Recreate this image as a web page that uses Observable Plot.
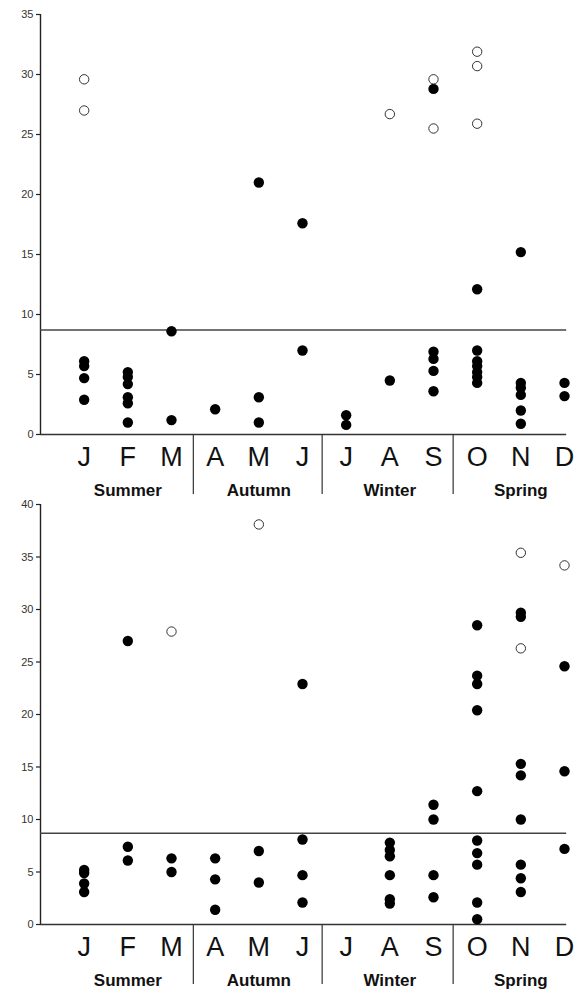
<!DOCTYPE html>
<html><head><meta charset="utf-8">
<script src="https://cdn.jsdelivr.net/npm/d3@7"></script>
<script src="https://cdn.jsdelivr.net/npm/@observablehq/plot@0.6"></script>
<style>body{margin:0;background:#fff} svg{display:block}</style>
</head><body><div id="chart"></div>
<script>
const months = ["J","F","M","A","M","J","J","A","S","O","N","D"];
const seasons = ["Summer","Autumn","Winter","Spring"];
const seasonCenters = [2, 5, 8, 11];
const seasonBreaks = [3.5, 6.45, 9.45];
const threshold = 8.7;
const topTicks = [0, 5, 10, 15, 20, 25, 30, 35];
const bottomTicks = [0, 5, 10, 15, 20, 25, 30, 35, 40];

const topFilled = [
  [6.1, 5.7, 4.7, 2.9],
  [5.2, 4.8, 4.2, 3.1, 2.6, 1.0],
  [8.6, 1.2],
  [2.1],
  [21.0, 3.1, 1.0],
  [17.6, 7.0],
  [1.6, 0.8],
  [4.5],
  [28.8, 6.9, 6.3, 5.3, 3.6],
  [12.1, 7.0, 6.1, 5.7, 5.2, 4.8, 4.3],
  [15.2, 4.3, 3.9, 3.3, 2.0, 0.9],
  [4.3, 3.2]
];
const topOpen = [[29.6, 27.0], [], [], [], [], [], [], [26.7], [29.6, 25.5], [31.9, 30.7, 25.9], [], []];

const bottomFilled = [
  [5.2, 4.9, 3.9, 3.1],
  [27.0, 7.4, 6.1],
  [6.3, 5.0],
  [6.3, 4.3, 1.4],
  [7.0, 4.0],
  [22.9, 8.1, 4.7, 2.1],
  [],
  [7.8, 7.1, 6.5, 4.7, 2.4, 2.0],
  [11.4, 10.0, 4.7, 2.6],
  [28.5, 23.7, 22.9, 20.4, 12.7, 8.0, 6.8, 5.7, 2.1, 0.5],
  [29.7, 29.3, 15.3, 14.2, 10.0, 5.7, 4.4, 3.1],
  [24.6, 14.6, 7.2]
];
const bottomOpen = [[], [], [27.9], [], [38.1], [], [], [], [], [], [35.4, 26.3], [34.2]];

function flatten(arr) {
  const out = [];
  arr.forEach((vals, i) => vals.forEach(v => out.push({m: i + 1, v})));
  return out;
}

const FONT = '"Liberation Sans", Arial, Helvetica, sans-serif';

function panel({filled, open, ticks, ymax, height, marginTop, marginBottom}) {
  const plotH = height - marginTop - marginBottom;
  const pxPerUnit = plotH / ymax;
  const monthData = months.map((t, i) => ({m: i + 1, t}));
  const seasonData = seasons.map((t, i) => ({m: seasonCenters[i], t}));
  return Plot.plot({
    width: 579,
    height,
    marginLeft: 40,
    marginRight: 15,
    marginTop,
    marginBottom,
    style: {fontFamily: FONT, background: "#fff", overflow: "visible"},
    x: {domain: [0, 12], axis: null},
    y: {domain: [0, ymax], axis: null},
    marks: [
      Plot.axisY({ticks, tickSize: 4, tickPadding: 3, label: null, fontSize: 11, color: "#333", stroke: "#222", strokeWidth: 1.2}),
      Plot.ruleX([0], {y1: 0, y2: ymax, stroke: "#222", strokeWidth: 1.4}),
      Plot.ruleY([0], {x1: 0, x2: 12.05, stroke: "#333", strokeWidth: 1.5}),
      Plot.ruleY([threshold], {x1: 0, x2: 12.05, stroke: "#444", strokeWidth: 1.5}),
      Plot.ruleX(seasonBreaks, {y1: 0, y2: -60 / pxPerUnit, stroke: "#333", strokeWidth: 1.2}),
      Plot.text(monthData, {x: "m", y: 0, text: "t", dy: 23, fontSize: 27, fill: "#111", lineAnchor: "middle"}),
      Plot.text(seasonData, {x: "m", y: 0, text: "t", dy: 56, fontSize: 17, fontWeight: "bold", fill: "#111", lineAnchor: "middle"}),
      Plot.dot(flatten(filled), {x: "m", y: "v", r: 5.2, fill: "#000", stroke: "none"}),
      Plot.dot(flatten(open), {x: "m", y: "v", r: 4.7, fill: "#fff", stroke: "#333", strokeWidth: 1})
    ]
  });
}

const chart = document.getElementById("chart");
chart.appendChild(panel({filled: topFilled, open: topOpen, ticks: topTicks, ymax: 35, height: 495, marginTop: 14, marginBottom: 61}));
chart.appendChild(panel({filled: bottomFilled, open: bottomOpen, ticks: bottomTicks, ymax: 40, height: 494, marginTop: 9, marginBottom: 65}));
</script>
</body></html>
